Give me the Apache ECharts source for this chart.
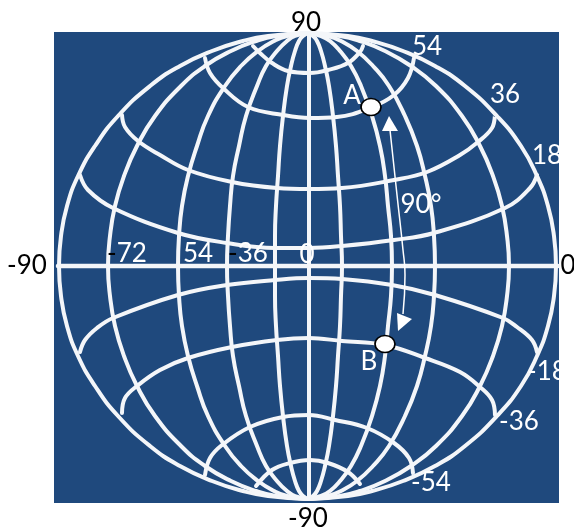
<!DOCTYPE html>
<html><head><meta charset="utf-8">
<style>html,body{margin:0;padding:0;background:#fff}#c{width:574px;height:529px}</style>
<script src="https://cdn.jsdelivr.net/npm/echarts@6/dist/echarts.min.js"></script>
</head><body><div id="c"></div>
<script>
const rowsTop = [33,36,41,51,66,86,116,146,176,206,236,266];
const rowsBottom = [296,326,356,386,416,446,466,481,491,496,499];
// x of each meridian at rowsTop (the lower half mirrors the upper half)
const meridianW90 = [308,268,243,212,180,150,118,95,78,67,61,59];
const meridianW72 = [308,276,256,231,205,181,155,137,124,115,110,108];
const meridianW54 = [308,287,274,258,241,225,208,197,188,182,179,178];
const meridianW36 = [308,295,287,277,266,257,246,239,233,230,228,227];
const meridianW18 = [308,303,299,295,291,287,283,280,278,276,275,275];
const meridian0   = [309,309,309,309,309,309,309,309,309,309,309,309];
const meridianE18 = [308,313,317,321,325,329,333,336,338,340,341,342];
const meridianE36 = [308,321,330,340,351,361,372,380,385,388,391,392];
const meridianE54 = [308,328,341,357,373,389,405,417,425,431,434,435];
const meridianE72 = [308,340,360,385,411,436,462,480,493,502,507,509];
const meridianE90 = [308,348,372,403,435,465,497,521,537,548,554,556];
const meridians = [meridianW90,meridianW72,meridianW54,meridianW36,meridianW18,meridian0,
                   meridianE18,meridianE36,meridianE54,meridianE72,meridianE90];

const equator = [[58,266],[558,266]];
const parallelN18 = [[80,175],[88,190],[113,208],[178,233],[227,243],[275,248],[309,248],[342,246],[394,240],[434,233],[505,208],[530,188],[537,175]];
const parallelN36 = [[122,115],[125,127],[138,141],[160,155],[188,170],[232,182],[277,188],[309,189],[342,188],[394,180],[427,172],[460,155],[478,142],[492,128],[495,115]];
const parallelN54 = [[205,58],[210,73],[223,88],[248,107],[283,115],[310,118],[337,117],[372,107],[394,95],[408,78],[414,58]];
const parallelN72 = [[253,46],[260,53],[272,63],[288,71],[310,73],[328,70],[348,63],[360,52],[363,46]];
const parallelS18 = [[80,352],[85,340],[97,328],[113,318],[178,295],[227,285],[275,280],[309,278],[342,279],[392,285],[435,295],[503,318],[517,327],[532,340],[537,352]];
const parallelS36 = [[122,413],[125,398],[137,386],[160,370],[188,358],[232,347],[277,340],[309,338],[342,341],[385,345],[425,358],[460,372],[480,387],[492,400],[495,415]];
const parallelS54 = [[205,475],[210,458],[222,445],[250,427],[283,417],[309,415],[335,420],[367,428],[394,443],[409,458],[413,473]];
const parallelS72 = [[256,486],[272,470],[290,463],[310,460],[328,463],[348,472],[360,484]];
const parallels = [parallelN18,parallelN36,parallelN54,parallelN72,parallelS18,parallelS36,parallelS54,parallelS72];

const arrowShaft = [[390,130],[397,195],[403,250],[405,275],[403,314]];
const arrowHeadUp = [[389,116],[382,131],[398,131]];
const arrowHeadDown = [[397,313],[412,319],[398,331]];
const points = [[371,107],[385,344]];

const blackLabels = [[306,23,'90'],[568,266,'0'],[27,266,'-90'],[308,519,'-90']];
const whiteLabels = [[427,47,'54'],[505,95,'36'],[547,156,'18'],[198,254,'54'],[307,255,'0'],
  [547,372,'-18'],[519,422,'-36'],[431,483,'-54'],[352,96,'A'],[369,362,'B'],[421,205,'90°']];
const mixedLabels = [[127,254,'-','72'],[248,254,'-','36']];

const FONT = 'Lato';
const SIZE = 26;
const LINE = '#f4f6f9';
const WIDTH = 4;

const mirror = m => rowsBottom.map((y,i) => [m[m.length-2-i], y]);
const toPath = m => rowsTop.map((y,i) => [m[i], y]).concat(mirror(m));
const lineSeries = (data, width, smooth) => ({
  type:'line', data, smooth, showSymbol:false, silent:true, clip:false,
  lineStyle:{color:LINE, width, cap:'round', join:'round'}, z:2
});
const labelSeries = (data, color) => ({
  type:'scatter', data, symbolSize:0, silent:true, clip:false, z:6, itemStyle:{opacity:1},
  label:{show:true, position:'inside', align:'center', verticalAlign:'middle',
    fontFamily:FONT, fontSize:SIZE, color, opacity:1,
    formatter:p => p.value[2]}
});

const chart = echarts.init(document.getElementById('c'), null, {renderer:'canvas'});
chart.setOption({
  animation:false,
  backgroundColor:'#ffffff',
  grid:{show:true,left:54,top:32,width:505,height:471,backgroundColor:'#1f497d',borderWidth:0},
  xAxis:{type:'value',min:54,max:559,show:false},
  yAxis:{type:'value',min:32,max:503,inverse:true,show:false},
  series:[
    ...meridians.map(m => lineSeries(toPath(m), WIDTH, true)),
    ...parallels.map(p => lineSeries(p, WIDTH, 0.4)),
    lineSeries(equator, 4.5, false),
    Object.assign(lineSeries(arrowShaft, 1.5, true), {z:3, lineStyle:{color:'#fff',width:1.5}}),
    {type:'custom', silent:true, clip:false, z:3, data:[arrowHeadUp, arrowHeadDown].map((h,i)=>[i]),
     renderItem:(params,api)=>{
       const h = [arrowHeadUp, arrowHeadDown][api.value(0)];
       return {type:'polygon', shape:{points:h.map(q=>api.coord(q))}, style:{fill:'#fff'}};
     }},
    {type:'scatter', data:points, symbol:'circle', symbolSize:[20,17], silent:true, clip:false, z:5,
     itemStyle:{color:'#fff',borderColor:'#000',borderWidth:1.6,opacity:1}},
    labelSeries(blackLabels,'#000'),
    labelSeries(whiteLabels,'#fff'),
    {type:'scatter', data:mixedLabels, symbolSize:0, silent:true, clip:false, z:6, itemStyle:{opacity:1},
     label:{show:true, position:'inside', align:'center', verticalAlign:'middle',
       formatter:p => '{m|'+p.value[2]+'}{d|'+p.value[3]+'}',
       rich:{m:{fontFamily:FONT,fontSize:SIZE,color:'#000'},
             d:{fontFamily:FONT,fontSize:SIZE,color:'#fff'}}}}
  ]
});
</script>
</body></html>
